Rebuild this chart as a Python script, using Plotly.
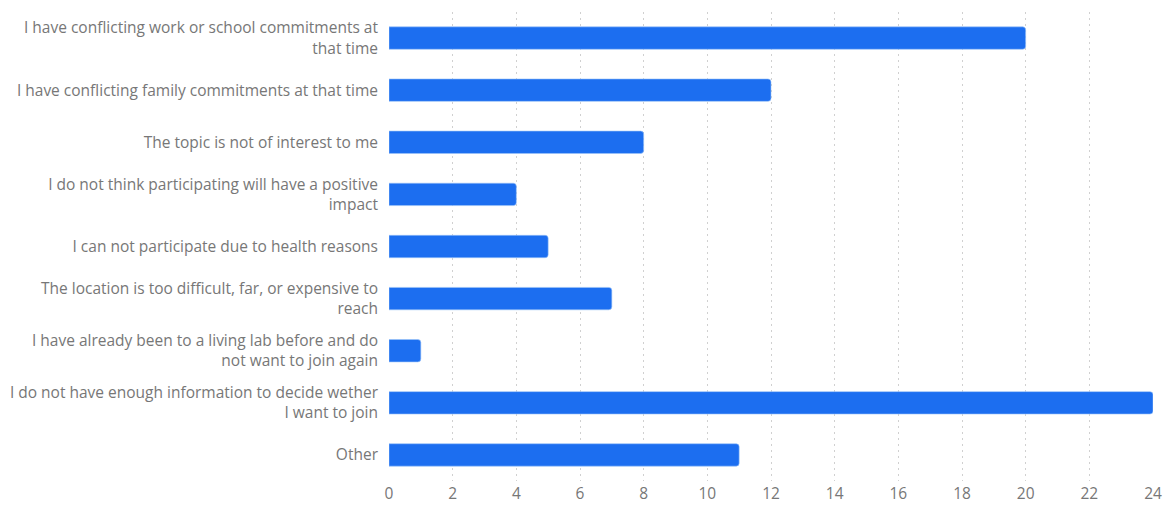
import plotly.graph_objects as go

categories = [
    "I have conflicting work or school commitments at<br>that time",
    "I have conflicting family commitments at that time",
    "The topic is not of interest to me",
    "I do not think participating will have a positive<br>impact",
    "I can not participate due to health reasons",
    "The location is too difficult, far, or expensive to<br>reach",
    "I have already been to a living lab before and do<br>not want to join again",
    "I do not have enough information to decide wether<br>I want to join",
    "Other",
]
values = [20, 12, 8, 4, 5, 7, 1, 24, 11]
tick_vals = list(range(0, 25, 2))

fig = go.Figure(go.Bar(
    x=values,
    y=categories,
    orientation="h",
    width=0.43,
    marker=dict(color="#1c6ef0", line=dict(color="#9cc4f8", width=0.6), cornerradius=3),
))

fig.update_layout(
    width=1170, height=505,
    margin=dict(l=389, r=17, t=12, b=24),
    paper_bgcolor="white", plot_bgcolor="white",
    font=dict(family="Open Sans", size=15.5, color="#777777"),
    showlegend=False,
)
fig.update_xaxes(
    range=[0, 24], tickvals=tick_vals, showgrid=True,
    gridcolor="#d0d0d0", griddash="2px,4px", gridwidth=1,
    zeroline=False, showline=False, ticks="", ticklabelstandoff=1,
    automargin=False,
)
fig.update_yaxes(
    autorange="reversed", showgrid=False, showline=False, ticks="",
    ticklabelstandoff=10, automargin=False,
)

fig.write_html("out.html")
